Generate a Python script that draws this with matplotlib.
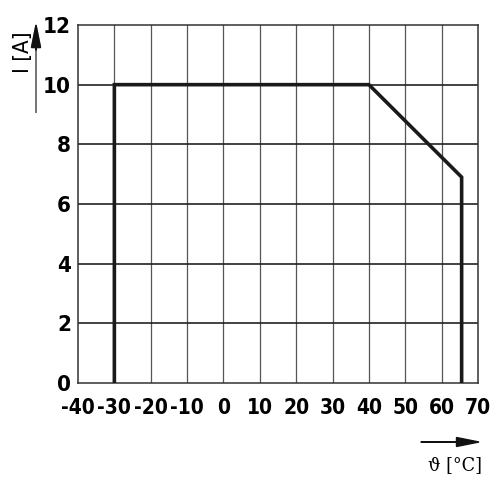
import matplotlib.pyplot as plt
from matplotlib.patches import FancyArrow

# derating curve: current vs ambient temperature
temp = [-30, -30, 40, 65.5, 65.5]
current = [0, 10, 10, 6.9, 0]

x_ticks = [-40, -30, -20, -10, 0, 10, 20, 30, 40, 50, 60, 70]
y_ticks = [0, 2, 4, 6, 8, 10, 12]

plt.rcParams['font.family'] = ['Liberation Sans Narrow', 'DejaVu Sans']

fig = plt.figure(figsize=(5, 5), dpi=100)
ax = fig.add_axes([0.156, 0.234, 0.8, 0.716])

ax.plot(temp, current, color='#1a1a1a', lw=2.6, solid_joinstyle='miter', zorder=3)

ax.set_xlim(-40, 70)
ax.set_ylim(0, 12)
ax.set_xticks(x_ticks)
ax.set_yticks(y_ticks)
ax.set_xticklabels([str(v) for v in x_ticks], fontsize=15, fontweight='bold',
                   fontstretch='condensed')
ax.set_yticklabels([str(v) for v in y_ticks], fontsize=16, fontweight='bold',
                   fontstretch='condensed')
ax.tick_params(axis='x', length=0, pad=11)
ax.tick_params(axis='y', length=0, pad=5)

for v in x_ticks[1:-1]:
    ax.axvline(v, color='#555555', lw=0.9, zorder=1)
for v in y_ticks[1:-1]:
    ax.axhline(v, color='#222222', lw=1.2, zorder=1)
for s in ax.spines.values():
    s.set_color('#333333')
    s.set_linewidth(1.1)

# axis captions with arrows
fig.patches.append(FancyArrow(
    0.072, 0.775, 0, 0.175, width=0.001, head_width=0.018, head_length=0.045,
    length_includes_head=True, color='#777777', transform=fig.transFigure))
fig.patches.append(FancyArrow(
    0.072, 0.90, 0, 0.05, width=0.001, head_width=0.018, head_length=0.045,
    length_includes_head=True, color='#111111', transform=fig.transFigure))
fig.text(0.045, 0.895, 'I [A]', rotation=90, fontsize=16, ha='center', va='center',
         fontstretch='condensed')
fig.patches.append(FancyArrow(
    0.842, 0.116, 0.116, 0, width=0.001, head_width=0.018, head_length=0.045,
    length_includes_head=True, color='#111111', transform=fig.transFigure))
fig.text(0.91, 0.07, 'ϑ [°C]', fontsize=14, ha='center', va='center',
         family=['DejaVu Serif'], fontstretch='condensed')

fig.savefig('out.png', dpi=100)
